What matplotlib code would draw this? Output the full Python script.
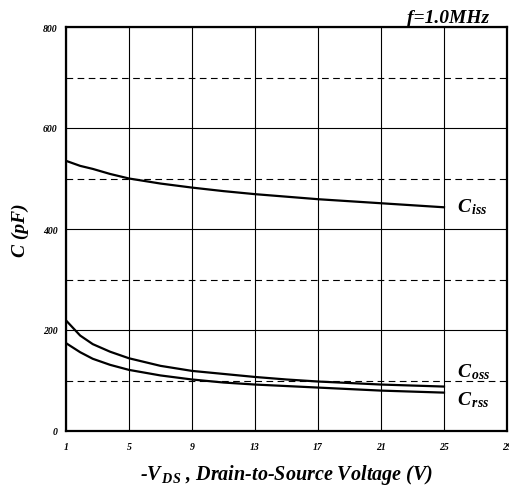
import matplotlib.pyplot as plt
import numpy as np

plt.rcParams['font.family'] = ['Liberation Serif', 'DejaVu Serif']
plt.rcParams['font.weight'] = 'bold'
plt.rcParams['font.style'] = 'italic'
plt.rcParams['axes.labelweight'] = 'bold'
plt.rcParams['mathtext.fontset'] = 'custom'
plt.rcParams['mathtext.it'] = 'Liberation Serif:bold:italic'
plt.rcParams['mathtext.rm'] = 'Liberation Serif:bold:italic'
plt.rcParams['mathtext.bf'] = 'Liberation Serif:bold:italic'

# -VDS (V)
vds = [1, 1.9, 2.7, 3.8, 5, 7, 9, 11, 13, 15, 17, 19, 21, 23, 25]
# capacitance (pF)
ciss = [535, 525, 519, 509, 500, 490, 482, 475, 469, 464, 459, 455, 451, 447, 443]
coss = [219, 189, 172, 157, 144, 129, 119, 113, 107, 102, 98, 95, 92, 90, 88]
crss = [174, 156, 143, 131, 121, 110, 102, 96, 92, 89, 86, 83, 80, 78, 76]

x_ticks = [1, 5, 9, 13, 17, 21, 25, 29]
y_ticks = [0, 200, 400, 600, 800]
y_dashed = [100, 300, 500, 700]

fig = plt.figure(figsize=(5.10, 4.89), dpi=100)
ax = fig.add_axes([66 / 510, 57 / 489, 441 / 510, 404 / 489])

for yv in y_ticks:
    ax.axhline(yv, color='black', lw=0.8, zorder=1)
for yv in y_dashed:
    ax.axhline(yv, color='black', lw=0.8, ls=(0, (6, 4)), zorder=1)
for xv in x_ticks:
    ax.axvline(xv, color='black', lw=0.8, zorder=1)

for series in (ciss, coss, crss):
    ax.plot(vds, series, color='black', lw=1.6, zorder=3,
            solid_joinstyle='round')

ax.set_xlim(1, 29)
ax.set_ylim(0, 800)
ax.set_xticks(x_ticks)
ax.set_yticks(y_ticks)
ax.tick_params(length=0, labelsize=7, pad=8)
ax.tick_params(axis='y', pad=6)
for s in ax.spines.values():
    s.set_linewidth(1.6)

ax.text(25.8, 445, r'$C_{\,iss}$', fontsize=14, ha='left', va='center')
ax.text(25.8, 118, r'$C_{\,oss}$', fontsize=14, ha='left', va='center')
ax.text(25.8, 64, r'$C_{\,rss}$', fontsize=14, ha='left', va='center')

ax.text(0.96, 1.003, 'f=1.0MHz', transform=ax.transAxes, fontsize=14,
        ha='right', va='bottom')
ax.set_ylabel('C (pF)', fontsize=14, labelpad=10)
ax.set_xlabel(r'-$V_{\,DS}$ , Drain-to-Source Voltage (V)', fontsize=14.5, labelpad=8)

fig.savefig('out.png', dpi=100)
